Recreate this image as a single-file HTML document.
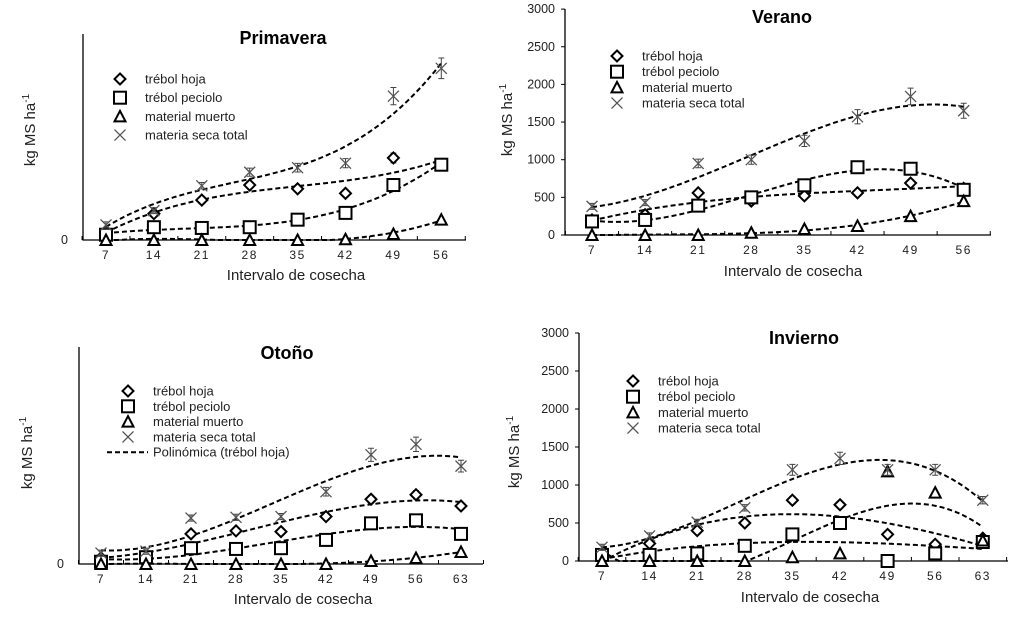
<!DOCTYPE html>
<html><head><meta charset="utf-8">
<style>
body{margin:0;background:#fff;}
svg{display:block;font-family:"Liberation Sans",sans-serif;}
</style></head>
<body>
<svg id="chart" width="1020" height="624" viewBox="0 0 1020 624"></svg>
<script>
// ---- data ----
const daysA = [7,14,21,28,35,42,49,56];
const daysB = [7,14,21,28,35,42,49,56,63];
const priHoja = [100,350,530,730,680,620,1090,1000];
const priPeciolo = [70,170,160,170,270,360,730,1000];
const priMuerto = [0,0,0,0,0,10,80,270];
const priTotal = [200,390,720,900,960,1020,1910,2280];
const verHoja = [200,270,560,450,520,560,690,620];
const verPeciolo = [180,200,390,500,660,900,880,600];
const verMuerto = [0,0,0,30,80,120,250,450];
const verTotal = [380,430,950,1000,1250,1570,1840,1650];
const otoHoja = [80,90,400,440,430,630,860,920,770];
const otoPeciolo = [30,90,210,200,210,320,540,580,400];
const otoMuerto = [0,0,0,0,0,0,40,80,160];
const otoTotal = [145,170,610,620,630,960,1450,1590,1300];
const invHoja = [50,230,400,500,800,740,350,220,300];
const invPeciolo = [80,80,100,200,350,500,0,100,250];
const invMuerto = [0,0,0,0,50,100,1180,900,270];
const invTotal = [180,330,510,700,1200,1350,1200,1200,800];
const yTicks = [0,500,1000,1500,2000,2500,3000];
const legendLabels = ["trébol hoja","trébol peciolo","material muerto","materia seca total"];

const NS="http://www.w3.org/2000/svg";
const svg=document.getElementById('chart');
function mk(tag,attrs,parent){const e=document.createElementNS(NS,tag);for(const k in attrs)e.setAttribute(k,attrs[k]);(parent||svg).appendChild(e);return e;}

function fit(xs,ys,deg){
  const n=deg+1;const A=[];for(let i=0;i<n;i++){A.push(new Array(n+1).fill(0));}
  const xm=xs.map(x=>(x-35)/28);
  for(let k=0;k<xs.length;k++){for(let i=0;i<n;i++){for(let j=0;j<n;j++)A[i][j]+=Math.pow(xm[k],i+j);A[i][n]+=ys[k]*Math.pow(xm[k],i);}}
  for(let i=0;i<n;i++){let p=i;for(let r=i+1;r<n;r++)if(Math.abs(A[r][i])>Math.abs(A[p][i]))p=r;[A[i],A[p]]=[A[p],A[i]];
    for(let r=0;r<n;r++){if(r===i)continue;const f=A[r][i]/A[i][i];for(let c=i;c<=n;c++)A[r][c]-=f*A[i][c];}}
  const co=A.map((r,i)=>r[n]/r[i]);
  return x=>{const t=(x-35)/28;let s=0;for(let i=0;i<n;i++)s+=co[i]*Math.pow(t,i);return s;};
}

function marker(g,type,cx,cy,name){
  let e;
  if(type==='d'){e=mk('path',{d:`M${cx} ${cy-5.5}L${cx+5.5} ${cy}L${cx} ${cy+5.5}L${cx-5.5} ${cy}Z`,fill:'#fff',stroke:'#000','stroke-width':2},g);}
  else if(type==='s'){e=mk('rect',{x:cx-6,y:cy-6,width:12,height:12,fill:'#fff',stroke:'#000','stroke-width':2},g);}
  else if(type==='t'){e=mk('path',{d:`M${cx} ${cy-5.5}L${cx+5.5} ${cy+5}L${cx-5.5} ${cy+5}Z`,fill:'#fff',stroke:'#000','stroke-width':2},g);}
  else {e=mk('path',{d:`M${cx-5.5} ${cy-5.5}L${cx+5.5} ${cy+5.5}M${cx+5.5} ${cy-5.5}L${cx-5.5} ${cy+5.5}`,stroke:'#555','stroke-width':1.3,fill:'none'},g);}
  
  
  return e;
}

function panel(p){
  const g=mk('g',{});
  
  
  const X=d=>p.x0+(d-p.days[0])/7*p.dx;
  const Y=v=>p.base-v*p.k;
  const ax=mk('path',{d:`M${p.ax} ${p.top}L${p.ax} ${p.base}L${p.axEnd} ${p.base}`,stroke:'#000','stroke-width':1.3,fill:'none'},g);
  
  
  for(let i=0;i<=p.days.length;i++){const tx=X(p.days[0])-p.dx/2+i*p.dx;mk('line',{x1:tx,x2:tx,y1:p.base,y2:p.base-4,stroke:'#000','stroke-width':1},g);}
  p.days.forEach(d=>{
    const t=mk('text',{x:X(d),y:p.base+19,'text-anchor':'middle','font-size':12,'letter-spacing':1.5,fill:'#222'},g);t.textContent=d;
    
    
  });
  if(p.full){yTicks.forEach(v=>{
    mk('line',{x1:p.ax-4,x2:p.ax,y1:Y(v),y2:Y(v),stroke:'#000'},g);
    const t=mk('text',{x:p.ax-10,y:Y(v)+4,'text-anchor':'end','font-size':12.5,fill:'#222'},g);t.textContent=v;
    
    
  });}else{
    const t=mk('text',{x:p.ax-15,y:p.base+4,'text-anchor':'end','font-size':12.5,fill:'#222'},g);t.textContent='0';
    
    
  }
  const ti=mk('text',{x:p.tx,y:p.ty,'text-anchor':'middle','font-size':18,'font-weight':'bold'},g);ti.textContent=p.title;
  
  
  const xt=mk('text',{x:p.xtx,y:p.xty,'text-anchor':'middle','font-size':15,fill:'#222'},g);xt.textContent='Intervalo de cosecha';
  
  
  const yt=mk('text',{x:0,y:0,transform:`translate(${p.ytx},${p.yty}) rotate(-90)`,'text-anchor':'middle','font-size':15,fill:'#222'},g);
  yt.innerHTML='kg MS ha<tspan dy="-6" font-size="10">-1</tspan>';
  
  
  const types=['d','s','t','x'];
  const names=['hoja','peciolo','muerto','total'];
  p.series.forEach((s,si)=>{
    const f=fit(p.days,s,3);let d='';
    for(let x=p.days[0];x<=p.days[p.days.length-1]+0.01;x+=0.5){const v=Math.max(0,f(x));d+=(d?'L':'M')+X(x).toFixed(1)+' '+Y(v).toFixed(1);}
    const l=mk('path',{d,stroke:'#000','stroke-width':2,'stroke-dasharray':'5,3',fill:'none'},g);
    
    
  });
  p.series.forEach((s,si)=>{
    s.forEach((v,i)=>{
      if(si!==2&&v>0){const e=Math.max(40,v*0.06);const cx=X(p.days[i]);
        mk('path',{d:`M${cx} ${Y(v+e)}L${cx} ${Y(v-e)}M${cx-3} ${Y(v+e)}L${cx+3} ${Y(v+e)}M${cx-3} ${Y(v-e)}L${cx+3} ${Y(v-e)}`,stroke:'#444','stroke-width':1,fill:'none'},g);}
      marker(g,types[si],X(p.days[i]),Y(v),p.id+'-'+names[si]+'-point');
    });
  });
  legendLabels.forEach((lb,i)=>{
    const y=p.ly+i*p.lh;
    marker(g,types[i],p.lx,y,'legend-marker-'+names[i]);
    const t=mk('text',{x:p.lx+25,y:y+4.5,'font-size':13,fill:'#222'},g);t.textContent=lb;
    
    
  });
  if(p.poly){const y=p.ly+4*p.lh;mk('line',{x1:p.lx-21,x2:p.lx+20,y1:y,y2:y,stroke:'#000','stroke-width':2,'stroke-dasharray':'5,3'},g);
    const t=mk('text',{x:p.lx+25,y:y+4.5,'font-size':13,fill:'#222'},g);t.textContent='Polinómica (trébol hoja)';
    
    }
}

panel({id:'primavera',title:'Primavera',days:daysA,series:[priHoja,priPeciolo,priMuerto,priTotal],
  x0:106,dx:47.9,ax:83,axEnd:466,top:34,base:240,k:0.0753,full:false,tx:283,ty:44,xtx:296,xty:280,ytx:35,yty:130,lx:120,ly:79,lh:18.7});
panel({id:'verano',title:'Verano',days:daysA,series:[verHoja,verPeciolo,verMuerto,verTotal],
  x0:592,dx:53.1,ax:565,axEnd:991,top:9,base:235,k:0.0753,full:true,tx:782,ty:23,xtx:793,xty:276,ytx:512,yty:120,lx:617,ly:56,lh:15.7});
panel({id:'otono',title:'Otoño',days:daysB,series:[otoHoja,otoPeciolo,otoMuerto,otoTotal],
  x0:101,dx:45,ax:79,axEnd:483,top:347,base:564,k:0.0753,full:false,tx:287,ty:359,xtx:303,xty:604,ytx:32,yty:453,lx:128,ly:391,lh:15.3,poly:true});
panel({id:'invierno',title:'Invierno',days:daysB,series:[invHoja,invPeciolo,invMuerto,invTotal],
  x0:602,dx:47.6,ax:579,axEnd:1008,top:333,base:561,k:0.076,full:true,tx:804,ty:344,xtx:810,xty:602,ytx:519,yty:452,lx:633,ly:381,lh:15.7});
</script>
</body></html>
